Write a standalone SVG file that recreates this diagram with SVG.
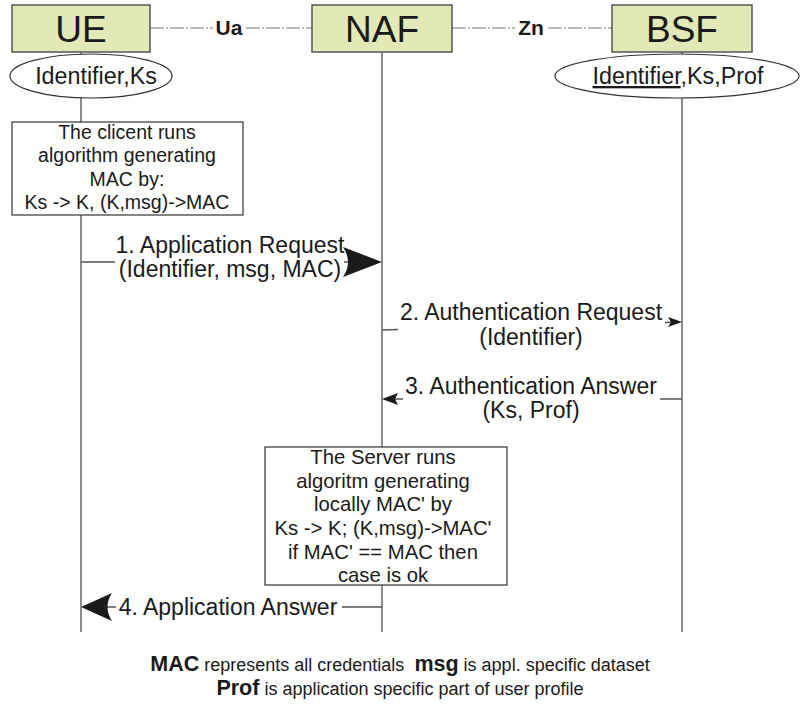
<svg xmlns="http://www.w3.org/2000/svg" width="803" height="713" viewBox="0 0 803 713">
<style>
text{font-family:"Liberation Sans",Arial,sans-serif;fill:#1a1a1a}
.ent{fill:#e2e9b6;stroke:#555;stroke-width:1.5}
.big{font-size:37px;text-anchor:middle}
.life{stroke:#666;stroke-width:1.5;fill:none}
.iface{stroke:#777;stroke-width:1.2;stroke-dasharray:14,2,2,2;fill:none}
.ifl{font-size:21px;font-weight:bold;text-anchor:middle}
.ell{fill:#fff;stroke:#333;stroke-width:1.2}
.et{font-size:23.3px;text-anchor:middle}
.note{fill:#fff;stroke:#333;stroke-width:1.2}
.nt{font-size:19.5px;text-anchor:middle}
.nt2{font-size:20.3px;text-anchor:middle}
.msg{stroke:#555;stroke-width:1.5;fill:none}
.ml{font-size:23px;text-anchor:middle}
.ah{fill:#1a1a1a}
.ft{font-size:18px;text-anchor:middle}
.fb{font-weight:bold;font-size:21.5px}
</style>
<g id="lifelines">
<line class="life" x1="81" y1="52" x2="81" y2="632"/>
<line class="life" x1="382" y1="52" x2="382" y2="632"/>
<line class="life" x1="682" y1="52" x2="682" y2="632"/>
</g>
<g id="interfaces">
<line class="iface" x1="150" y1="28" x2="213" y2="28"/>
<line class="iface" x1="246" y1="28" x2="312" y2="28"/>
<text class="ifl" x="229" y="35">Ua</text>
<line class="iface" x1="452" y1="28" x2="515" y2="28"/>
<line class="iface" x1="548" y1="28" x2="612" y2="28"/>
<text class="ifl" x="531" y="35">Zn</text>
</g>
<g id="UE">
<rect class="ent" x="12" y="5" width="138" height="47"/>
<text class="big" x="81" y="42">UE</text>
</g>
<g id="NAF">
<rect class="ent" x="312" y="5" width="140" height="47"/>
<text class="big" x="382" y="42">NAF</text>
</g>
<g id="BSF">
<rect class="ent" x="612" y="5" width="140" height="47"/>
<text class="big" x="682" y="42">BSF</text>
</g>
<g id="ue-data">
<ellipse class="ell" cx="91" cy="76" rx="81" ry="22"/>
<text class="et" x="96" y="84">Identifier,Ks</text>
</g>
<g id="bsf-data">
<ellipse class="ell" cx="677" cy="76" rx="122" ry="22"/>
<text class="et" x="678" y="84"><tspan text-decoration="underline">Identifier</tspan>,Ks,Prof</text>
</g>
<g id="client-note">
<rect class="note" x="12" y="122" width="231" height="93"/>
<text class="nt" x="127" y="139">The clicent runs</text>
<text class="nt" x="127" y="162">algorithm generating</text>
<text class="nt" x="127" y="186">MAC by:</text>
<text class="nt" x="127" y="209">Ks -&gt; K, (K,msg)-&gt;MAC</text>
</g>
<g id="server-note">
<rect class="note" x="265" y="447" width="242" height="138"/>
<text class="nt2" x="383" y="464">The Server runs</text>
<text class="nt2" x="383" y="488">algoritm generating</text>
<text class="nt2" x="383" y="511">locally MAC' by</text>
<text class="nt2" x="383" y="535">Ks -&gt; K; (K,msg)-&gt;MAC'</text>
<text class="nt2" x="383" y="559">if MAC' == MAC then</text>
<text class="nt2" x="383" y="582">case is ok</text>
</g>
<g id="connectors">
<line class="msg" x1="81" y1="262" x2="115" y2="262"/>
<line class="msg" x1="344" y1="262" x2="352" y2="262"/>
<path class="ah" d="M382,262 L343,247 Q353,262 343,277 Z"/>
<text class="ml" x="230" y="253">1. Application Request</text>
<text class="ml" x="230" y="277">(Identifier, msg, MAC)</text>

<line class="msg" x1="382" y1="330" x2="398" y2="329.6"/>
<line class="msg" x1="665" y1="322.5" x2="672" y2="322.3"/>
<path class="ah" d="M682,322 L668,317 L671,322 L668,327 Z"/>
<text class="ml" x="531" y="320">2. Authentication Request</text>
<text class="ml" x="531" y="345">(Identifier)</text>

<line class="msg" x1="660" y1="399" x2="682" y2="399"/>
<line class="msg" x1="392" y1="399" x2="403" y2="399"/>
<path class="ah" d="M382,399 L398,393 L395,399 L398,405 Z"/>
<text class="ml" x="531" y="394">3. Authentication Answer</text>
<text class="ml" x="531" y="418">(Ks, Prof)</text>

<line class="msg" x1="342" y1="607" x2="382" y2="607"/>
<line class="msg" x1="104" y1="607" x2="116" y2="607"/>
<path class="ah" d="M81,607 L112,593 Q103,607 112,621 Z"/>
<text class="ml" x="228" y="615">4. Application Answer</text>
</g>
<g id="legend">
<text class="ft" x="400" y="671"><tspan class="fb">MAC</tspan> represents all credentials &#160;<tspan class="fb">msg</tspan> is appl. specific dataset</text>
<text class="ft" x="400" y="695"><tspan class="fb">Prof</tspan> is application specific part of user profile</text>
</g>
</svg>
